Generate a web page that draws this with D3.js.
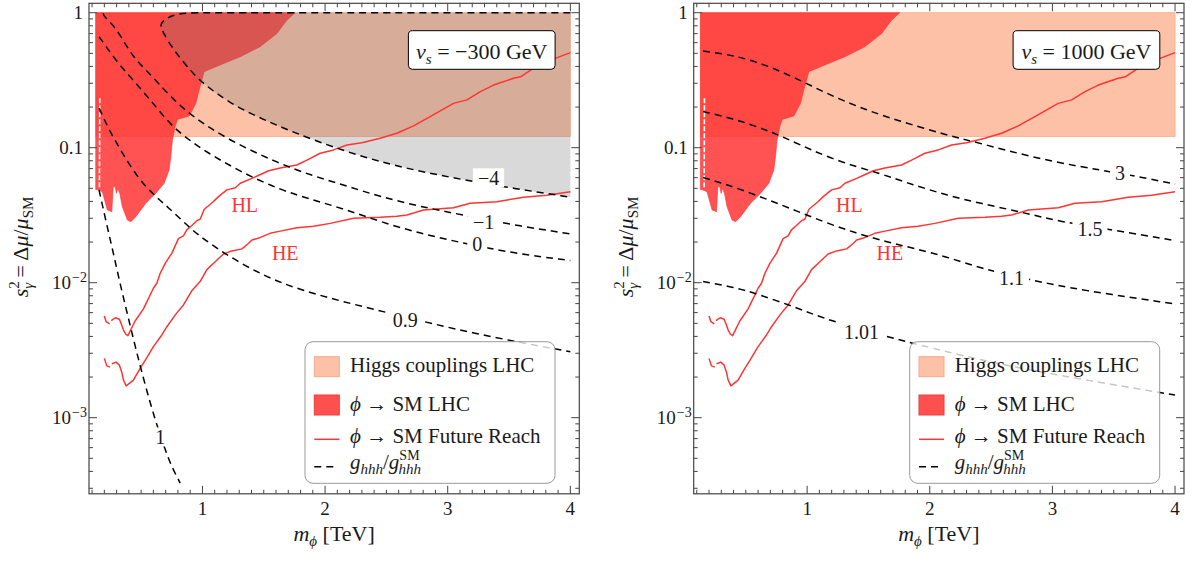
<!DOCTYPE html>
<html><head><meta charset="utf-8">
<script src="https://cdn.jsdelivr.net/npm/d3@7/dist/d3.min.js"></script>
<style>
body{margin:0;background:#fff;}
svg{display:block;}
text{font-family:"Liberation Serif","Times New Roman","DejaVu Serif",serif;fill:#1a1a1a;}
</style></head><body>
<svg id="chart" width="1194" height="561" font-family="Liberation Serif, Times New Roman, serif"></svg>
<script>
// ================= DATA =================
const xDomain = [0.075, 4.073];
const yDomain = [2.73e-4, 1.174];
const xMajorTicks = [1, 2, 3, 4];
const yMajorTicks = [1e-3, 1e-2, 0.1, 1];
const yTickMantissa = ["10", "10", "0.1", "1"];
const yTickExponent = ["−3", "−2", null, null];
const panelVs = ["−300", "1000"];

// Higgs couplings LHC band (x range, y range)
const higgsBandX = [0.13, 4.0];
const higgsBandY = [0.121, 1.0];

// phi -> SM LHC exclusion (upper region)
const lhcExclusion = [[0.13,1.0],[0.13,0.049],[0.144,0.0489],[0.184,0.0472],[0.225,0.0346],[0.261,0.0336],
  [0.272,0.0514],[0.288,0.0514],[0.299,0.0459],[0.31,0.05],[0.326,0.0459],[0.347,0.0366],[0.388,0.0291],
  [0.416,0.0283],[0.457,0.0308],[0.538,0.0387],[0.62,0.0459],[0.688,0.0545],[0.728,0.0684],[0.742,0.0858],
  [0.755,0.114],[0.777,0.143],[0.796,0.162],[0.892,0.172],[0.946,0.213],[0.973,0.268],[1.014,0.366],
  [1.144,0.41],[1.308,0.472],[1.47,0.56],[1.607,0.70],[1.688,0.88],[1.756,1.0]];
const lhcGapLine = [[0.163,0.232],[0.16,0.05]];

// phi -> SM future reach
const hlReach = [[0.200,0.00567],[0.215,0.00514],[0.243,0.00495], null,
  [0.256,0.00523],[0.29,0.0055],[0.323,0.00536],[0.343,0.00482],[0.356,0.00446],[0.375,0.00415],[0.392,0.00405],
  [0.451,0.0052],[0.519,0.0064],[0.6,0.0091],[0.628,0.0099],[0.655,0.0117],[0.696,0.0139],[0.75,0.0165],
  [0.804,0.0212],[0.845,0.0222],[0.872,0.0246],[0.913,0.0265],[0.954,0.0288],[0.981,0.0295],[1.015,0.035],
  [1.088,0.0398],[1.131,0.0434],[1.199,0.0487],[1.268,0.0505],[1.308,0.0545],[1.404,0.0593],[1.46,0.0625],
  [1.54,0.0675],[1.634,0.0708],[1.77,0.0745],[1.852,0.081],[1.96,0.0909],[2.069,0.0963],[2.178,0.1047],
  [2.3,0.109],[2.449,0.1174],[2.586,0.128],[2.721,0.145],[2.857,0.17],[3.047,0.213],[3.157,0.226],
  [3.266,0.26],[3.374,0.291],[3.537,0.327],[3.594,0.335],[3.7,0.388],[3.808,0.434],[4.0,0.506]];
const heReach = [[0.200,0.00275],[0.22,0.00242],[0.247,0.00237], null,
  [0.261,0.00251],[0.296,0.00258],[0.323,0.00245],[0.343,0.00216],[0.356,0.0019],[0.378,0.00172],
  [0.437,0.0019],[0.492,0.00232],[0.533,0.00266],[0.6,0.00336],[0.669,0.0041],[0.71,0.00472],[0.78,0.0058],
  [0.845,0.00684],[0.913,0.0087],[0.981,0.0102],[1.036,0.0125],[1.104,0.0143],[1.171,0.0163],[1.24,0.0172],
  [1.322,0.0178],[1.375,0.0195],[1.404,0.0207],[1.458,0.0214],[1.552,0.0232],[1.634,0.0241],[1.77,0.0255],
  [1.905,0.0262],[2.042,0.0275],[2.232,0.03],[2.449,0.0305],[2.586,0.0311],[2.667,0.0317],[2.803,0.0346],
  [3.047,0.0359],[3.184,0.0388],[3.401,0.0398],[3.618,0.043],[3.808,0.0445],[4.0,0.0472]];
const reachLabels = [["HL",1.345,0.0378],["HE",1.675,0.0165]];

// g_hhh / g_hhh^SM contours, v_s = -300 GeV
const contourLeftM4 = [[4.0,1.0],[2.5,1.0],[1.2,1.0],[0.85,1.0],[0.76,0.96],[0.682,0.883],[0.655,0.811],
  [0.675,0.72],[0.77,0.52],[0.9,0.375],[1.0,0.3],[1.253,0.205],[1.525,0.158],[1.634,0.143],[1.905,0.114],
  [2.178,0.0934],[2.449,0.0787],[2.721,0.0684],[3.129,0.0577],[3.537,0.05],[4.0,0.043]];
const contourLeftM1 = [[0.19,0.99],[0.198,0.934],[0.288,0.788],[0.383,0.56],[0.457,0.446],[0.62,0.317],
  [0.837,0.19],[1.2,0.115],[1.634,0.0757],[1.905,0.0617],[2.178,0.052],[2.449,0.0434],[2.776,0.0366],
  [3.129,0.0317],[3.537,0.0267],[4.0,0.023]];
const contourLeft0 = [[0.157,0.664],[0.32,0.41],[0.484,0.283],[0.62,0.201],[0.755,0.143],[0.892,0.114],
  [1.028,0.0934],[1.3,0.067],[1.634,0.0486],[1.905,0.041],[2.178,0.0346],[2.449,0.0283],[2.776,0.0232],
  [3.075,0.0201],[3.537,0.0165],[4.0,0.0146]];
const contourLeft09 = [[0.158,0.196],[0.239,0.135],[0.347,0.091],[0.484,0.0577],[0.62,0.0434],[0.728,0.0356],
  [0.865,0.0272],[0.981,0.0218],[1.308,0.0138],[1.634,0.0099],[2.0,0.0078],[2.531,0.00593],[3.2,0.0042],[4.0,0.00308]];
const contourLeft1 = [[0.157,0.0486],[0.2145,0.0282],[0.2716,0.0169],[0.3287,0.00978],[0.394,0.00557],
  [0.459,0.00317],[0.5326,0.00175],[0.614,0.000962],[0.6966,0.000576],[0.7537,0.000424],[0.8189,0.000328]];
const contourLeftLabels = [["−4",3.333,0.0598],["−1",3.292,0.0282],["0",3.241,0.0194],["0.9",2.653,0.0053],["1",0.655,0.00072]];

// g_hhh / g_hhh^SM contours, v_s = 1000 GeV
const contourRight3 = [[0.152,0.52],[0.396,0.486],[0.669,0.41],[0.94,0.317],[1.212,0.239],[1.484,0.19],
  [1.729,0.16],[2.137,0.124],[2.409,0.108],[2.817,0.0858],[3.224,0.0723],[3.551,0.0646],[3.768,0.0593],[4.0,0.0538]];
const contourRight15 = [[0.152,0.185],[0.396,0.165],[0.669,0.135],[0.832,0.117],[1.212,0.081],[1.593,0.0646],
  [1.865,0.053],[2.137,0.0446],[2.409,0.0387],[2.735,0.0336],[3.061,0.0283],[3.496,0.0246],[4.0,0.0205]];
const contourRight11 = [[0.152,0.06],[0.315,0.0545],[0.587,0.0445],[0.859,0.0356],[1.131,0.0283],[1.403,0.0232],
  [1.648,0.0201],[1.865,0.018],[2.137,0.0156],[2.409,0.0128],[2.817,0.0105],[3.224,0.00883],[4.0,0.00695]];
const contourRight101 = [[0.152,0.0102],[0.396,0.0093],[0.587,0.0083],[0.9,0.0066],[1.131,0.00545],[1.444,0.0045],
  [1.756,0.00376],[1.864,0.00356],[2.4,0.00268],[2.953,0.00213],[4.0,0.00147]];
const contourRightLabels = [["3",3.551,0.065],["1.5",3.306,0.025],["1.1",2.667,0.0108],["1.01",1.444,0.00434]];

const legendLabels = ["Higgs couplings LHC", "ϕ → SM LHC", "ϕ → SM Future Reach", "ghhh/gSMhhh"];

// ================= LAYOUT / STYLE =================
const plotTop = 3.3, plotW = 490.3, plotH = 490.5;
const panelLeft = [89, 693.7];
const C = {
  orange: "rgb(252,193,166)", orangeEdge: "rgb(246,172,140)",
  red: "rgb(255,45,45)", redEdge: "rgb(255,55,55)",
  curve: "rgb(255,52,52)", gray: "rgb(120,120,120)", frame: "#444"
};

const svg = d3.select("#chart");
const x = d3.scaleLinear().domain(xDomain).range([0, plotW]);
const y = d3.scaleLog().domain(yDomain).range([plotH, 0]);

const panels = [
  {contours: [contourLeftM4, contourLeftM1, contourLeft0, contourLeft09, contourLeft1], labels: contourLeftLabels, grayRegion: contourLeftM4},
  {contours: [contourRight3, contourRight15, contourRight11, contourRight101], labels: contourRightLabels, grayRegion: null}
];

const lineLin = d3.line().defined(d => d != null).x(d => x(d[0])).y(d => y(d[1]));
const lineSmooth = d3.line().x(d => x(d[0])).y(d => y(d[1])).curve(d3.curveBasis);

panels.forEach((p, i) => {
  const g = svg.append("g").attr("transform", `translate(${panelLeft[i]},${plotTop})`);
  const cid = "clip" + i;
  g.append("clipPath").attr("id", cid).append("rect").attr("width", plotW).attr("height", plotH);
  const pg = g.append("g").attr("clip-path", `url(#${cid})`);

  // Higgs couplings band
  pg.append("rect")
    .attr("x", x(higgsBandX[0])).attr("width", x(higgsBandX[1]) - x(higgsBandX[0]))
    .attr("y", y(higgsBandY[1])).attr("height", y(higgsBandY[0]) - y(higgsBandY[1]))
    .attr("fill", C.orange).attr("stroke", C.orangeEdge).attr("stroke-width", 0.8);

  // LHC exclusion
  pg.append("path").attr("d", lineLin(lhcExclusion) + "Z")
    .attr("fill", C.red).attr("fill-opacity", 0.82)
    .attr("stroke", C.redEdge).attr("stroke-width", 0.8).attr("stroke-opacity", 0.8);
  pg.append("path").attr("d", lineLin(lhcGapLine))
    .attr("stroke", "#fff").attr("stroke-width", 1.6).attr("stroke-dasharray", "5,2").attr("fill", "none");

  // gray region (left panel)
  if (p.grayRegion) {
    pg.append("path").attr("d", lineSmooth(p.grayRegion) + "Z")
      .attr("fill", C.gray).attr("fill-opacity", 0.28).attr("stroke", "none");
  }

  // future reach curves
  [hlReach, heReach].forEach(c => {
    pg.append("path").attr("d", lineLin(c)).attr("fill", "none")
      .attr("stroke", C.curve).attr("stroke-width", 1.5).attr("stroke-linejoin", "round");
  });
  reachLabels.forEach(l => {
    pg.append("text").attr("x", x(l[1])).attr("y", y(l[2])).attr("dy", "0.35em")
      .attr("text-anchor", "middle").attr("font-size", 20).style("fill", C.curve).text(l[0]);
  });

  // contours
  p.contours.forEach(c => {
    pg.append("path").attr("d", lineSmooth(c)).attr("fill", "none")
      .attr("stroke", "#000").attr("stroke-width", 1.5).attr("stroke-dasharray", "7,5");
  });
  p.labels.forEach(l => {
    const lg = pg.append("g");
    const t = lg.append("text").attr("x", x(l[1])).attr("y", y(l[2])).attr("dy", "0.35em")
      .attr("text-anchor", "middle").attr("font-size", 20).text(l[0]);
    const bb = t.node().getBBox();
    lg.insert("rect", "text").attr("x", bb.x - 5).attr("y", y(l[2]) - 9.5)
      .attr("width", bb.width + 10).attr("height", 19).attr("fill", "#fff");
  });

  // frame + ticks
  g.append("rect").attr("width", plotW).attr("height", plotH).attr("fill", "none")
    .attr("stroke", C.frame).attr("stroke-width", 1.2);
  const tk = g.append("g").attr("stroke", C.frame).attr("stroke-width", 1);
  const xMinor = d3.range(1, 40).map(k => k / 10).filter(v => Math.abs(v - Math.round(v)) > 1e-6);
  xMinor.forEach(v => {
    tk.append("line").attr("x1", x(v)).attr("x2", x(v)).attr("y1", plotH).attr("y2", plotH - 4);
    tk.append("line").attr("x1", x(v)).attr("x2", x(v)).attr("y1", 0).attr("y2", 4);
  });
  xMajorTicks.forEach(v => {
    tk.append("line").attr("x1", x(v)).attr("x2", x(v)).attr("y1", plotH).attr("y2", plotH - 8);
    tk.append("line").attr("x1", x(v)).attr("x2", x(v)).attr("y1", 0).attr("y2", 8);
    g.append("text").attr("x", x(v)).attr("y", plotH + 21).attr("text-anchor", "middle")
      .attr("font-size", 19).text(v);
  });
  const yMinor = [];
  for (let e = -4; e <= 0; e++) for (let k = 2; k <= 9; k++) {
    const v = k * Math.pow(10, e);
    if (v > yDomain[0] && v < yDomain[1]) yMinor.push(v);
  }
  yMinor.forEach(v => {
    tk.append("line").attr("x1", 0).attr("x2", 4).attr("y1", y(v)).attr("y2", y(v));
    tk.append("line").attr("x1", plotW).attr("x2", plotW - 4).attr("y1", y(v)).attr("y2", y(v));
  });
  yMajorTicks.forEach((v, j) => {
    tk.append("line").attr("x1", 0).attr("x2", 8).attr("y1", y(v)).attr("y2", y(v));
    tk.append("line").attr("x1", plotW).attr("x2", plotW - 8).attr("y1", y(v)).attr("y2", y(v));
    const t = g.append("text").attr("y", y(v)).attr("dy", "0.35em").attr("text-anchor", "end").attr("font-size", 19);
    if (yTickExponent[j]) {
      t.attr("x", -2);
      t.append("tspan").text(yTickMantissa[j]);
      t.append("tspan").attr("font-size", 14).attr("dy", -7).attr("dx", 1).text(yTickExponent[j]);
    } else {
      t.attr("x", -6).text(yTickMantissa[j]);
    }
  });

  // v_s box
  const bx = 319.4, by = 27.4, bw = 146.7, bh = 38.6;
  g.append("rect").attr("x", bx).attr("y", by).attr("width", bw).attr("height", bh).attr("rx", 4)
    .attr("fill", "#fff").attr("stroke", "#000").attr("stroke-width", 1);
  const vt = g.append("text").attr("x", bx + bw / 2).attr("y", by + 28).attr("text-anchor", "middle").attr("font-size", 22);
  vt.append("tspan").attr("font-style", "italic").text("v");
  vt.append("tspan").attr("font-style", "italic").attr("font-size", 15).attr("dy", 5).text("s");
  vt.append("tspan").attr("dy", -5).text(" = " + panelVs[i] + " GeV");

  // legend
  const lx = 216, ly = 338.4;
  const lgd = g.append("g").attr("transform", `translate(${lx},${ly})`);
  lgd.append("rect").attr("width", 250).attr("height", 141.6).attr("rx", 8)
    .attr("fill", "#fff").attr("fill-opacity", 0.78).attr("stroke", "#999").attr("stroke-width", 1);
  lgd.append("rect").attr("x", 9.3).attr("y", 15).attr("width", 25).attr("height", 20)
    .attr("fill", C.orange).attr("stroke", C.orangeEdge);
  lgd.append("rect").attr("x", 9.3).attr("y", 53.3).attr("width", 25).attr("height", 20)
    .attr("fill", "rgb(255,80,80)").attr("stroke", "rgb(240,60,60)");
  lgd.append("line").attr("x1", 9.3).attr("x2", 34.3).attr("y1", 97.6).attr("y2", 97.6)
    .attr("stroke", C.curve).attr("stroke-width", 1.5);
  lgd.append("line").attr("x1", 9.3).attr("x2", 30).attr("y1", 125).attr("y2", 125)
    .attr("stroke", "#000").attr("stroke-width", 1.5).attr("stroke-dasharray", "7,5");
  const tx = 45;
  lgd.append("text").attr("x", tx).attr("y", 30).attr("font-size", 21).text(legendLabels[0]);
  const t2 = lgd.append("text").attr("x", tx).attr("y", 69).attr("font-size", 21);
  t2.append("tspan").attr("font-style", "italic").text("ϕ");
  t2.append("tspan").text(legendLabels[1].slice(1));
  const t3 = lgd.append("text").attr("x", tx).attr("y", 101.5).attr("font-size", 21);
  t3.append("tspan").attr("font-style", "italic").text("ϕ");
  t3.append("tspan").text(legendLabels[2].slice(1));
  const t4 = lgd.append("text").attr("x", tx).attr("y", 127).attr("font-size", 21);
  t4.append("tspan").attr("font-style", "italic").text("g");
  t4.append("tspan").attr("font-style", "italic").attr("font-size", 15).attr("dy", 5).text("hhh");
  t4.append("tspan").attr("dy", -5).text("/");
  t4.append("tspan").attr("font-style", "italic").text("g");
  t4.append("tspan").attr("font-size", 14).attr("dy", -9).text("SM");
  t4.append("tspan").attr("font-style", "italic").attr("font-size", 15).attr("dx", -21).attr("dy", 14).text("hhh");

  // axis labels
  const xl = svg.append("text").attr("x", panelLeft[i] + plotW / 2).attr("y", 541)
    .attr("text-anchor", "middle").attr("font-size", 22);
  xl.append("tspan").attr("font-style", "italic").text("m");
  xl.append("tspan").attr("font-style", "italic").attr("font-size", 15).attr("dy", 5).text("ϕ");
  xl.append("tspan").attr("dy", -5).text(" [TeV]");

  const yl = svg.append("text").attr("transform", `translate(${panelLeft[i] - 61},247) rotate(-90)`)
    .attr("text-anchor", "middle").attr("font-size", 22);
  yl.append("tspan").attr("font-style", "italic").text("s");
  yl.append("tspan").attr("font-size", 15).attr("dy", -9).text("2");
  yl.append("tspan").attr("font-size", 15).attr("font-style", "italic").attr("dx", -7.5).attr("dy", 14).text("γ");
  yl.append("tspan").attr("dy", -5).text(" = Δ");
  yl.append("tspan").attr("font-style", "italic").text("μ");
  yl.append("tspan").text("/");
  yl.append("tspan").attr("font-style", "italic").text("μ");
  yl.append("tspan").attr("font-size", 15).attr("dy", 5).text("SM");
});
</script>
</body></html>
